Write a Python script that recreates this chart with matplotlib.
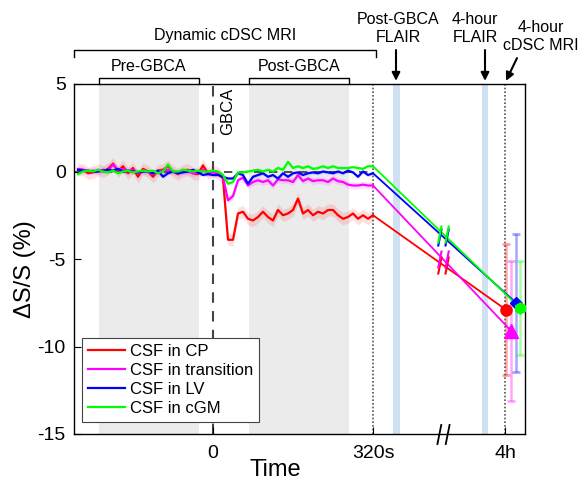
import matplotlib
matplotlib.use("Agg")
import matplotlib.pyplot as plt
import numpy as np
from matplotlib.path import Path
from matplotlib.colors import to_rgba

plt.rcParams['font.family'] = ['Liberation Sans', 'DejaVu Sans']
plt.rcParams['axes.unicode_minus'] = False

# sampling grid of the dynamic cDSC scan (s), -270 .. 320
t = np.arange(-270, 321, 10)

# mean dS/S (%) before injection (-270 .. 0) and after (10 .. 320)
cp_pre = [0.1, 0.1, -0.1, -0.05, 0.1, 0.0, 0.15, 0.45, 0.0, 0.3, -0.1, 0.2, -0.3, 0.15,
          0.0, -0.3, 0.05, 0.1, 0.3, 0.0, -0.15, 0.05, 0.1, -0.1, -0.15, 0.35, -0.1, 0.0]
cp_post = [-0.1, -0.4, -3.9, -3.9, -2.4, -2.3, -2.7, -2.8, -2.6, -2.3, -2.6, -2.8, -2.2, -2.5,
           -2.4, -2.2, -1.55, -2.4, -2.2, -2.5, -2.3, -2.4, -2.2, -2.2, -2.5, -2.7, -2.6, -2.4,
           -2.7, -2.5, -2.7, -2.5]
tr_pre = [0.15, 0.1, 0.0, 0.05, 0.0, 0.1, 0.05, 0.4, 0.1, 0.15, 0.0, 0.1, -0.1, 0.05,
          0.0, -0.15, 0.0, 0.05, 0.1, 0.0, -0.1, 0.05, 0.0, -0.1, -0.05, 0.1, -0.05, -0.05]
tr_post = [-0.1, -0.3, -1.65, -1.4, -0.5, -0.35, -0.8, -0.6, -0.5, -0.6, -0.5, -0.8, -0.45, -0.5,
           -0.5, -0.6, -0.2, -0.55, -0.4, -0.55, -0.5, -0.5, -0.6, -0.4, -0.55, -0.6, -0.75, -0.8,
           -0.8, -0.75, -0.8, -0.8]
lv_pre = [0.1, 0.05, 0.05, 0.0, 0.0, 0.05, 0.1, 0.05, 0.15, 0.0, 0.05, 0.0, -0.05, 0.0,
          0.0, -0.1, 0.05, -0.3, -0.1, 0.0, -0.1, -0.05, 0.0, 0.1, -0.05, -0.2, -0.15, -0.2]
lv_post = [-0.2, -0.3, -0.4, -0.4, -0.1, -0.2, -0.7, -0.3, -0.2, -0.1, -0.3, -0.2, -0.4, -0.1,
           -0.3, -0.1, -0.05, -0.2, -0.1, -0.05, -0.1, 0.0, -0.05, -0.1, 0.0, -0.1, 0.05, -0.05,
           -0.3, 0.0, -0.2, -0.1]
gm_pre = [-0.15, 0.0, 0.05, 0.0, 0.1, 0.0, -0.05, 0.05, -0.1, 0.0, 0.05, -0.05, 0.0, 0.05,
          0.0, 0.05, -0.1, 0.0, 0.4, 0.0, 0.0, 0.1, 0.05, 0.0, 0.05, 0.0, 0.0, 0.05]
gm_post = [0.0, -0.2, -0.7, -0.6, -0.05, -0.05, 0.0, 0.05, 0.1, 0.0, 0.1, 0.0, 0.2, 0.1,
           0.55, 0.2, 0.3, 0.2, 0.3, 0.15, 0.2, 0.3, 0.2, 0.3, 0.2, 0.2, 0.2, 0.25, 0.2, 0.15,
           0.3, 0.3]

# standard error band half-width per region
band = [0.35, 0.2, 0.1, 0.1]

# 4-hour cDSC values (mean, error) and where each is drawn on the time axis
t_4h = [586, 596, 606, 614]
val_4h = [-7.9, -9.1, -7.5, -7.8]
err_4h = [3.75, 4.0, 3.95, 2.7]

names = ['CSF in CP', 'CSF in transition', 'CSF in LV', 'CSF in cGM']
colors = ['#ff0000', '#ff00ff', '#0000ff', '#00ff00']
markers = ['o', '^', 'D', 'h']
msizes = [8, 10, 6, 8]
series = [cp_pre + cp_post, tr_pre + tr_post, lv_pre + lv_post, gm_pre + gm_post]

# axis break mark "//"
brk = Path([(-3, -5), (-1, 5), (1, -5), (3, 5)],
           [Path.MOVETO, Path.LINETO, Path.MOVETO, Path.LINETO])
t_break = 460

fig = plt.figure(figsize=(5.8, 4.87), dpi=100)
ax = fig.add_axes([74 / 580, 53 / 487, 451 / 580, 350 / 487])
ax.set_xlim(-278, 624)
ax.set_ylim(-15, 5)

# background regions
ax.axvspan(-228, -28, color='#ebebeb', lw=0, zorder=0)
ax.axvspan(72, 272, color='#ebebeb', lw=0, zorder=0)
ax.axvspan(360, 374, color='#cfe2f3', lw=0, zorder=0)
ax.axvspan(538, 550, color='#cfe2f3', lw=0, zorder=0)

ax.hlines(0, -278, 320, colors='#333333', linestyles=(0, (5, 4)), lw=1.2, zorder=1)
ax.axvline(0, color='#444444', ls=(0, (5, 4)), lw=1.5, zorder=1)
ax.axvline(320, color='#555555', ls=(0, (1, 1.2)), lw=1.2, zorder=1)
ax.axvline(584, color='#555555', ls=(0, (1, 1.2)), lw=1.2, zorder=1)

handles = []
for y, se, c, name, tx, v, e, m, ms in zip(series, band, colors, names, t_4h, val_4h,
                                           err_4h, markers, msizes):
    y = np.array(y)
    ax.fill_between(t, y - se, y + se, color=c, alpha=0.12, lw=0, zorder=2)
    h, = ax.plot(t, y, color=c, lw=1.6, label=name, zorder=3)
    handles.append(h)
    ax.plot([t[-1], tx], [y[-1], v], color=c, lw=1.3, zorder=3)
    yb = np.interp(t_break, [t[-1], tx], [y[-1], v])
    ax.plot(t_break, yb, marker=brk, ms=13, mec=c, mew=1.5, ls='none', zorder=4)
    eb = ax.errorbar(tx, v, yerr=e, fmt='none', ecolor=to_rgba(c, 0.35), elinewidth=1.8,
                     capsize=3, capthick=2, zorder=3)
    for cl in eb[1]:
        cl.set_color(c)
    ax.plot(tx, v, marker=m, color=c, ms=ms, ls='none', zorder=5)

# break mark on the time axis
ax.plot(t_break, 0, marker=brk, ms=15, mec='k', mew=1.3, ls='none',
        transform=ax.get_xaxis_transform(), clip_on=False, zorder=6)

ax.set_xticks([0, 320, 584], ['0', '320s', '4h'])
ax.set_yticks([5, 0, -5, -10, -15])
ax.tick_params(direction='in', length=5, width=0.8, labelsize=14)
ax.tick_params(axis='x', pad=8)
ax.tick_params(axis='y', pad=6)
for s in ax.spines.values():
    s.set_linewidth(1.0)

ax.set_xlabel('Time', fontsize=17)
ax.xaxis.set_label_coords(0.446, -0.07)
ax.set_ylabel('ΔS/S (%)', fontsize=17)
ax.yaxis.set_label_coords(-0.085, 0.47)

ax.text(15, 0.99, 'GBCA', rotation=90, fontsize=12, ha='left', va='top',
        transform=ax.get_xaxis_transform())

# brackets and annotations above the axes
tr = ax.get_xaxis_transform()
def bracket(x0, x1, y0, y1, label, ty):
    ax.plot([x0, x0, x1, x1], [y0, y1, y1, y0], color='k', lw=1, transform=tr, clip_on=False)
    ax.text((x0 + x1) / 2, ty, label, ha='center', va='center', fontsize=11.5, transform=tr)

bracket(-278, 326, 1.077, 1.097, 'Dynamic cDSC MRI', 1.14)
bracket(-228, -28, 1.0, 1.017, 'Pre-GBCA', 1.049)
bracket(72, 272, 1.0, 1.017, 'Post-GBCA', 1.049)

arrow = dict(arrowstyle='-|>', color='k', lw=1.5, mutation_scale=12, shrinkA=0, shrinkB=0)
ax.annotate('', xy=(366, 1.009), xytext=(366, 1.097), xycoords=tr, textcoords=tr,
            arrowprops=arrow)
ax.text(370, 1.16, 'Post-GBCA\nFLAIR', ha='center', va='center', fontsize=11.5,
        linespacing=1.25, transform=tr)
ax.annotate('', xy=(544, 1.009), xytext=(544, 1.097), xycoords=tr, textcoords=tr,
            arrowprops=arrow)
ax.text(524, 1.16, '4-hour\nFLAIR', ha='center', va='center', fontsize=11.5,
        linespacing=1.25, transform=tr)
ax.annotate('', xy=(586, 1.009), xytext=(608, 1.074), xycoords=tr, textcoords=tr,
            arrowprops=arrow)
ax.text(656, 1.135, '4-hour\ncDSC MRI', ha='center', va='center', fontsize=11.5,
        linespacing=1.25, transform=tr)

leg = ax.legend(handles=handles, loc='lower left', bbox_to_anchor=(0.018, 0.034),
                fontsize=12, frameon=True, fancybox=False, edgecolor='#444444',
                framealpha=1, handlelength=2.2, handletextpad=0.3, borderpad=0.35,
                labelspacing=0.25, borderaxespad=0)
leg.get_frame().set_linewidth(0.8)

fig.savefig('out.png', dpi=100)
